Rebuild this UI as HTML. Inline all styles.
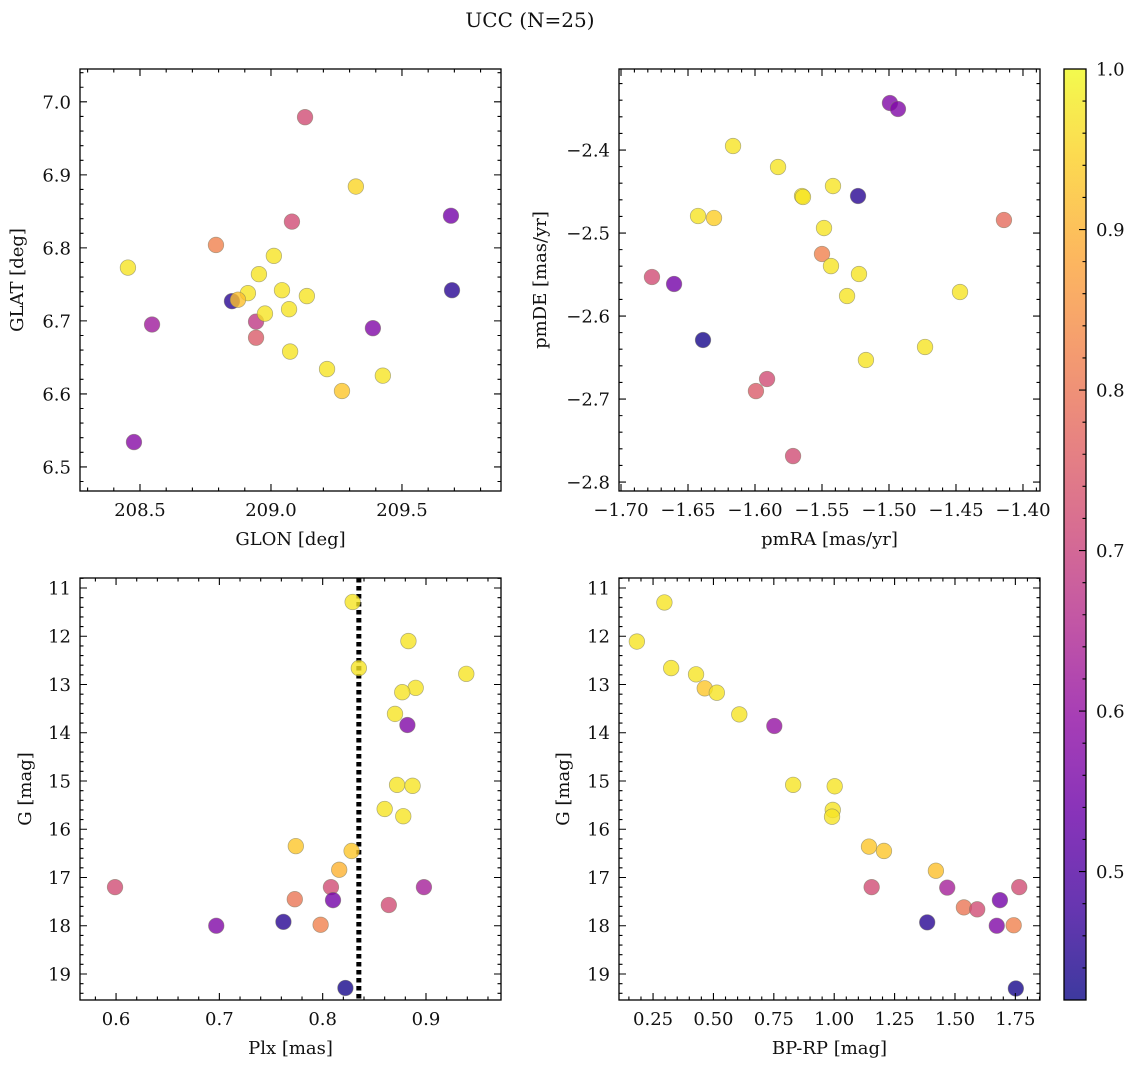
<!DOCTYPE html>
<html><head><meta charset="utf-8"><style>
html,body{margin:0;padding:0;background:#fff;}
svg text{font-family:"DejaVu Serif","Liberation Serif",serif;fill:#111;}
</style></head><body>
<svg id="fig" xmlns="http://www.w3.org/2000/svg" width="1136" height="1068" viewBox="0 0 1136 1068">
<text x="530" y="27" font-size="20" text-anchor="middle">UCC (N=25)</text>
</svg>
<script>
// ---- data ----
const p1Glon=[209.130,209.324,208.790,209.080,209.687,208.454,209.011,208.954,208.912,209.042,209.137,208.851,208.874,209.691,208.546,208.943,209.069,208.977,209.389,208.943,209.073,209.214,209.271,209.427,208.477];
const p1Glat=[6.979,6.884,6.804,6.836,6.844,6.773,6.789,6.764,6.738,6.742,6.734,6.727,6.729,6.742,6.695,6.699,6.716,6.710,6.690,6.677,6.658,6.634,6.604,6.625,6.534];
const p1Prob=[0.72,0.95,0.82,0.72,0.55,0.97,0.97,0.97,0.97,0.97,0.97,0.45,0.92,0.45,0.62,0.68,0.97,0.97,0.57,0.75,0.97,0.97,0.93,0.97,0.58];

const p2PmRA=[-1.4993,-1.4933,-1.6164,-1.5828,-1.5649,-1.5642,-1.5418,-1.5231,-1.6425,-1.6306,-1.5485,-1.4142,-1.5500,-1.5433,-1.5224,-1.6769,-1.6604,-1.5313,-1.4470,-1.6388,-1.4731,-1.5172,-1.5910,-1.5993,-1.5716];
const p2PmDE=[-2.3434,-2.3506,-2.3952,-2.4205,-2.4554,-2.4566,-2.4434,-2.4554,-2.4795,-2.4819,-2.4940,-2.4843,-2.5253,-2.5398,-2.5494,-2.5530,-2.5614,-2.5759,-2.5711,-2.6289,-2.6373,-2.6530,-2.6759,-2.6904,-2.7687];
const p2Prob=[0.57,0.57,0.97,0.97,0.97,0.97,0.97,0.45,0.97,0.94,0.97,0.78,0.82,0.97,0.97,0.72,0.55,0.97,0.97,0.43,0.97,0.97,0.72,0.75,0.72];

const p3Plx=[0.829,0.883,0.835,0.939,0.890,0.877,0.870,0.882,0.872,0.887,0.860,0.878,0.774,0.828,0.816,0.599,0.808,0.898,0.810,0.773,0.864,0.697,0.762,0.798,0.822];
const p3G=[11.29,12.10,12.66,12.78,13.07,13.16,13.61,13.84,15.08,15.10,15.58,15.73,16.35,16.45,16.84,17.20,17.20,17.20,17.47,17.45,17.57,18.00,17.92,17.98,19.29];
const p3Prob=[0.97,0.97,0.97,0.97,0.97,0.97,0.97,0.57,0.97,0.97,0.97,0.97,0.93,0.93,0.90,0.72,0.72,0.63,0.55,0.80,0.72,0.57,0.45,0.82,0.43];
const plxMedian=0.835;

const p4BpRp=[0.297,0.183,0.325,0.428,0.464,0.514,0.607,0.752,0.83,1.002,0.994,0.991,1.144,1.206,1.155,1.421,1.468,1.385,1.537,1.592,1.686,1.766,1.673,1.743,1.752];
const p4G=[11.30,12.11,12.66,12.79,13.08,13.17,13.62,13.86,15.08,15.11,15.60,15.74,16.36,16.45,17.20,16.86,17.21,17.93,17.62,17.66,17.47,17.20,18.00,17.99,19.30];
const p4Prob=[0.97,0.97,0.97,0.97,0.93,0.97,0.97,0.60,0.97,0.97,0.97,0.97,0.93,0.93,0.72,0.92,0.63,0.45,0.80,0.72,0.55,0.72,0.57,0.82,0.43];

// tick labels
const p1XTicks=[208.5,209.0,209.5];
const p1YTicks=[6.5,6.6,6.7,6.8,6.9,7.0];
const p2XTicks=[-1.70,-1.65,-1.60,-1.55,-1.50,-1.45,-1.40];
const p2YTicks=[-2.8,-2.7,-2.6,-2.5,-2.4];
const p3XTicks=[0.6,0.7,0.8,0.9];
const gTicks=[11,12,13,14,15,16,17,18,19];
const p4XTicks=[0.25,0.50,0.75,1.00,1.25,1.50,1.75];
const cbTicks=[0.5,0.6,0.7,0.8,0.9,1.0];
const cbRange=[0.42,1.0];

// ---- rendering ----
const NS='http://www.w3.org/2000/svg';
const svg=document.getElementById('fig');
const FS=18;
function el(tag,attrs,parent){const e=document.createElementNS(NS,tag);for(const k in attrs)e.setAttribute(k,attrs[k]);(parent||svg).appendChild(e);return e;}
const plasma=[[0,'#0d0887'],[0.1,'#41049d'],[0.2,'#6a00a8'],[0.3,'#8f0da4'],[0.4,'#b12a90'],[0.5,'#cc4778'],[0.6,'#e16462'],[0.7,'#f2844b'],[0.8,'#fca636'],[0.9,'#fcce25'],[1,'#f0f921']];
function hex(h){return [1,3,5].map(i=>parseInt(h.substr(i,2),16));}
function cmap(t){t=Math.max(0,Math.min(1,t));for(let i=1;i<plasma.length;i++){if(t<=plasma[i][0]){const a=plasma[i-1],b=plasma[i];const f=(t-a[0])/(b[0]-a[0]);const ca=hex(a[1]),cb=hex(b[1]);return 'rgb('+ca.map((v,j)=>Math.round(v+(cb[j]-v)*f)).join(',')+')';}}return plasma[plasma.length-1][1];}
function norm(p){return (p-cbRange[0])/(cbRange[1]-cbRange[0]);}
function fmt(v,d){const s=Math.abs(v).toFixed(d);return (v<0?'\u2212':'')+s;}

function panel(cfg,xs,ys,ps){
  const g=el('g',{});
  
  
  const X=v=>cfg.x0+(v-cfg.xd[0])/(cfg.xd[1]-cfg.xd[0])*cfg.w;
  const Y=v=>cfg.y0+(v-cfg.yd[0])/(cfg.yd[1]-cfg.yd[0])*cfg.h;
  const x1=cfg.x0+cfg.w,y1=cfg.y0+cfg.h;
  if(cfg.vline!==undefined){const l=el('line',{x1:X(cfg.vline),x2:X(cfg.vline),y1:cfg.y0,y2:y1,stroke:'#000','stroke-width':5,'stroke-dasharray':'4.5,3.5'},g);
    
    }
  for(let i=0;i<xs.length;i++){
    const c=el('circle',{cx:X(xs[i]),cy:Y(ys[i]),r:7.8,fill:cmap(norm(ps[i])),'fill-opacity':0.8,stroke:'#7a7a60','stroke-opacity':0.6,'stroke-width':0.7},g);
    
    
  }
  const tk=[];
  function ticksX(v,len){const px=X(v);if(px<cfg.x0-0.5||px>x1+0.5)return;tk.push(`M${px},${y1}v${-len}M${px},${cfg.y0}v${len}`);}
  function ticksY(v,len){const py=Y(v);if(py<cfg.y0-0.5||py>y1+0.5)return;tk.push(`M${cfg.x0},${py}h${len}M${x1},${py}h${-len}`);}
  const xa=Math.min(...cfg.xd),xb=Math.max(...cfg.xd),ya=Math.min(...cfg.yd),yb=Math.max(...cfg.yd);
  for(let k=Math.ceil(xa/cfg.xMinor-1e-6);k*cfg.xMinor<=xb+1e-9;k++)ticksX(k*cfg.xMinor,3.5);
  for(let k=Math.ceil(ya/cfg.yMinor-1e-6);k*cfg.yMinor<=yb+1e-9;k++)ticksY(k*cfg.yMinor,3.5);
  cfg.xTicks.forEach(v=>ticksX(v,7));cfg.yTicks.forEach(v=>ticksY(v,7));
  el('path',{d:tk.join(''),stroke:'#000','stroke-width':1.1,fill:'none'},g);
  const fr=el('rect',{x:cfg.x0,y:cfg.y0,width:cfg.w,height:cfg.h,fill:'none',stroke:'#000','stroke-width':1.3},g);
  
  
  cfg.xTicks.forEach(v=>{const t=el('text',{x:X(v),y:y1+25,'font-size':FS,'text-anchor':'middle'},g);t.textContent=fmt(v,cfg.xd_dec);
    
    });
  cfg.yTicks.forEach(v=>{const t=el('text',{x:cfg.x0-9,y:Y(v)+6.5,'font-size':FS,'text-anchor':'end'},g);t.textContent=fmt(v,cfg.yd_dec);
    
    });
  const xl=el('text',{x:cfg.x0+cfg.w/2,y:y1+54,'font-size':FS,'text-anchor':'middle'},g);xl.textContent=cfg.xlabel;
  
  
  const yl=el('text',{x:0,y:0,'font-size':FS,'text-anchor':'middle',transform:`translate(${cfg.ylx},${cfg.y0+cfg.h/2}) rotate(-90)`},g);yl.textContent=cfg.ylabel;
  
  
}

panel({name:'glon-glat-panel',x0:80,y0:69,w:421,h:422,xd:[208.271,209.878],yd:[7.045,6.467],xTicks:p1XTicks,yTicks:p1YTicks,xMinor:0.1,yMinor:0.02,xd_dec:1,yd_dec:1,xlabel:'GLON [deg]',ylabel:'GLAT [deg]',ylx:23},p1Glon,p1Glat,p1Prob);
panel({name:'pm-panel',x0:619,y0:69,w:421,h:422,xd:[-1.7015,-1.3873],yd:[-2.3024,-2.8108],xTicks:p2XTicks,yTicks:p2YTicks,xMinor:0.01,yMinor:0.02,xd_dec:2,yd_dec:1,xlabel:'pmRA [mas/yr]',ylabel:'pmDE [mas/yr]',ylx:546},p2PmRA,p2PmDE,p2Prob);
panel({name:'plx-g-panel',x0:80,y0:578,w:421,h:422,xd:[0.5651,0.9726],yd:[10.793,19.539],xTicks:p3XTicks,yTicks:gTicks,xMinor:0.02,yMinor:0.2,xd_dec:1,yd_dec:0,xlabel:'Plx [mas]',ylabel:'G [mag]',ylx:31,vline:plxMedian},p3Plx,p3G,p3Prob);
panel({name:'cmd-panel',x0:619,y0:578,w:421,h:422,xd:[0.109,1.852],yd:[10.793,19.539],xTicks:p4XTicks,yTicks:gTicks,xMinor:0.05,yMinor:0.2,xd_dec:2,yd_dec:0,xlabel:'BP-RP [mag]',ylabel:'G [mag]',ylx:569},p4BpRp,p4G,p4Prob);

// colorbar
(function(){
  const cx=1064,cy=69,cw=22,ch=931;
  const g=el('g',{});
  
  
  const defs=el('defs',{},g);
  const lg=el('linearGradient',{id:'cbg',x1:0,y1:1,x2:0,y2:0},defs);
  for(let i=0;i<=20;i++){const t=i/20;el('stop',{offset:t,'stop-color':cmap(t),'stop-opacity':0.8},lg);}
  el('rect',{x:cx,y:cy,width:cw,height:ch,fill:'url(#cbg)'},g);
  const CY=v=>cy+ch-(v-cbRange[0])/(cbRange[1]-cbRange[0])*ch;
  const tk=[];
  for(let k=Math.ceil(cbRange[0]/0.02-1e-6);k*0.02<=cbRange[1]+1e-9;k++){tk.push(`M${cx+cw},${CY(k*0.02)}h-3.5`);}
  cbTicks.forEach(v=>{tk.push(`M${cx+cw},${CY(v)}h-7`);
    const t=el('text',{x:cx+cw+10,y:CY(v)+6.5,'font-size':FS},g);t.textContent=v.toFixed(1);
    
    });
  el('path',{d:tk.join(''),stroke:'#000','stroke-width':1.1},g);
  el('rect',{x:cx,y:cy,width:cw,height:ch,fill:'none',stroke:'#000','stroke-width':1.3},g);
})();
</script>
</body></html>
